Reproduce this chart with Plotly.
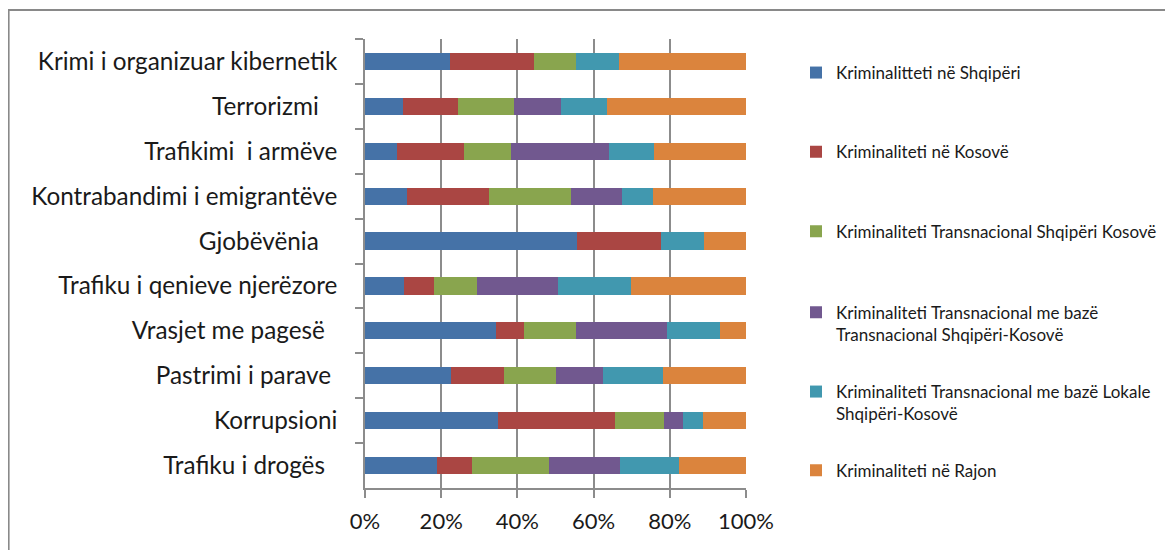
import plotly.graph_objects as go

NB = "\u00a0"
categories = [
    "Krimi i organizuar kibernetik",
    "Terrorizmi" + NB * 3,
    "Trafikimi" + NB + " i armëve",
    "Kontrabandimi i emigrantëve",
    "Gjobëvënia" + NB * 3,
    "Trafiku i qenieve njerëzore",
    "Vrasjet me pagesë" + NB * 2,
    "Pastrimi i parave" + NB,
    "Korrupsioni",
    "Trafiku i drogës" + NB * 2,
]

series_names = [
    "Kriminalitteti në Shqipëri",
    "Kriminaliteti në Kosovë",
    "Kriminaliteti Transnacional Shqipëri Kosovë",
    "Kriminaliteti Transnacional me bazë<br>Transnacional Shqipëri-Kosovë",
    "Kriminaliteti Transnacional me bazë Lokale<br>Shqipëri-Kosovë",
    "Kriminaliteti në Rajon",
]

shqiperi = [22.2, 10.0, 8.3, 11.0, 55.6, 10.2, 34.5, 22.7, 34.9, 19.0]
kosove = [22.2, 14.4, 17.8, 21.6, 22.2, 7.8, 7.1, 13.9, 30.6, 9.2]
transnacional_shk = [11.1, 14.8, 12.2, 21.4, 0.0, 11.5, 13.8, 13.5, 13.1, 20.1]
trans_baze_trans = [0.0, 12.2, 25.8, 13.5, 0.0, 21.2, 23.9, 12.4, 4.8, 18.5]
trans_baze_lokale = [11.1, 12.1, 11.8, 8.2, 11.1, 19.2, 13.8, 15.8, 5.3, 15.6]
rajon = [33.3, 36.5, 24.1, 24.3, 11.1, 30.1, 6.9, 21.7, 11.3, 17.6]

series_values = [shqiperi, kosove, transnacional_shk, trans_baze_trans, trans_baze_lokale, rajon]
colors = ["#4572A7", "#AA4643", "#89A54E", "#71588F", "#4198AF", "#DB843D"]

x_ticks = [0, 20, 40, 60, 80, 100]
x_tick_labels = ["0%", "20%", "40%", "60%", "80%", "100%"]

FONT = "Lato, 'Open Sans', sans-serif"
TXT = "#1a1a1a"

OFF = 8  # page body margin offset
W, H = 1173 - OFF, 550 - OFF
L, R, T, B = 365 - OFF, 746 - OFF, 39 - OFF, 488 - OFF

def px_x(p):
    return (p - OFF - L) / (R - L)

def px_y(p):
    return (B - (p - OFF)) / (B - T)

fig = go.Figure()
legend_ids = ["legend", "legend2", "legend3", "legend4", "legend5", "legend6"]
legend_centers = [73, 152.3, 231.7, 323.8, 403, 470.7]

for name, vals, col, lid in zip(series_names, series_values, colors, legend_ids):
    fig.add_trace(go.Bar(
        y=categories, x=vals, name=name, orientation="h",
        marker=dict(color=col, line=dict(width=0)),
        legend=lid,
    ))

layout_legends = {}
for lid, cy in zip(legend_ids, legend_centers):
    layout_legends[lid] = dict(
        x=px_x(796), xanchor="left", y=px_y(cy), yanchor="middle",
        font=dict(family=FONT, size=17, color=TXT),
        bgcolor="rgba(0,0,0,0)", borderwidth=0, valign="top",
        itemclick=False, itemdoubleclick=False,
    )

fig.update_layout(
    width=W, height=H,
    margin=dict(l=L, r=W - R, t=T, b=H - B, autoexpand=False),
    paper_bgcolor="white", plot_bgcolor="white",
    barmode="stack", bargap=0.615,
    showlegend=True,
    font=dict(family=FONT, color=TXT),
    **layout_legends,
)

fig.update_xaxes(
    range=[0, 100], tickvals=x_ticks, ticktext=x_tick_labels,
    showgrid=True, gridcolor="#8c8c8c", gridwidth=1.5,
    showline=True, linecolor="#8c8c8c", linewidth=1.5,
    ticks="outside", ticklen=8, tickcolor="#8c8c8c", tickwidth=1.5,
    ticklabelstandoff=5,
    tickfont=dict(family=FONT, size=22, color=TXT),
    zeroline=False, fixedrange=True,
)
fig.update_yaxes(
    categoryorder="array", categoryarray=categories, autorange="reversed",
    showgrid=False, showline=True, linecolor="#8c8c8c", linewidth=1.5,
    ticks="outside", ticklen=8, tickcolor="#8c8c8c", tickwidth=1.5,
    tickson="boundaries", ticklabelstandoff=21,
    tickfont=dict(family=FONT, size=24.3, color=TXT),
    fixedrange=True,
)

fig.add_shape(
    type="rect", xref="paper", yref="paper",
    x0=px_x(8.6), x1=px_x(1250), y0=px_y(620), y1=px_y(10),
    line=dict(color="#898989", width=2), fillcolor="rgba(0,0,0,0)", layer="below",
)

fig.write_html("out.html")
